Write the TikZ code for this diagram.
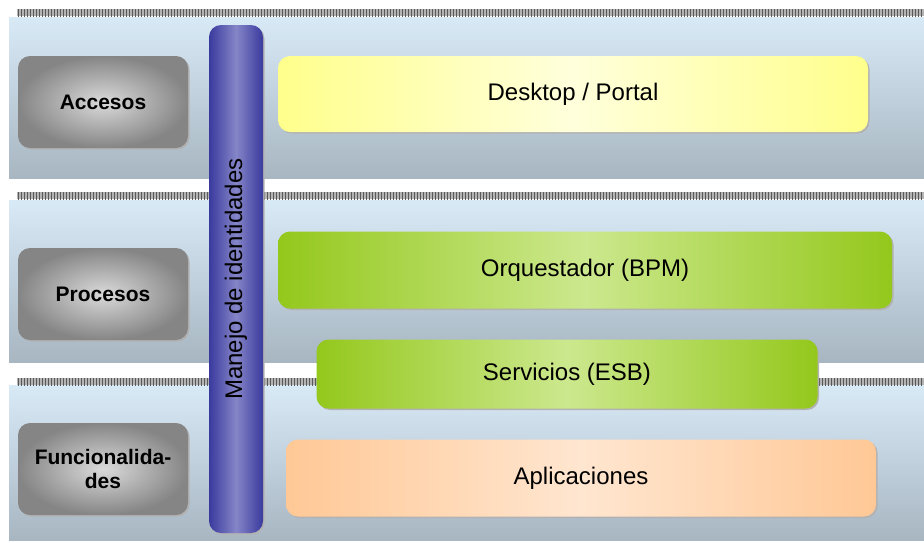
\documentclass[tikz,border=0pt]{standalone}
\usepackage{fontspec}
\setmainfont{Liberation Sans}
\usetikzlibrary{shadows, patterns}
\definecolor{bandtop}{HTML}{D9EAF7}
\definecolor{bandbot}{HTML}{A7B6C1}
\definecolor{stripegray}{HTML}{B4B4B4}
\definecolor{boxgray}{HTML}{858585}
\definecolor{boxlight}{HTML}{DADADA}
\definecolor{iddark}{HTML}{3A3A9E}
\definecolor{idlight}{HTML}{8585C8}
\definecolor{yelend}{HTML}{FFFF8C}
\definecolor{yelmid}{HTML}{FFFFDC}
\definecolor{greenend}{HTML}{94C81C}
\definecolor{greenmid}{HTML}{CCE88E}
\definecolor{peachend}{HTML}{FFC896}
\definecolor{peachmid}{HTML}{FFE6D0}
\tikzstyle{band} = [top color=bandtop, bottom color=bandbot]
\tikzstyle{stripe} = [fill=stripegray, postaction={pattern=vertical lines, pattern color=gray!70!black}]
\tikzstyle{layer} = [rectangle, rounded corners=12pt, minimum width=170pt, minimum height=92pt, align=center, shading=radial, inner color=boxlight, outer color=boxgray, drop shadow={shadow xshift=1.5pt, shadow yshift=-1.5pt, fill=gray!60, opacity=1}, font=\fontsize{21}{24}\selectfont\bfseries]
\tikzstyle{component} = [rectangle, rounded corners=12pt, text centered, drop shadow={shadow xshift=1.5pt, shadow yshift=-1.5pt, fill=gray!60, opacity=1}, font=\fontsize{24}{28}\selectfont]

\begin{document}
\begin{tikzpicture}[x=1pt, y=-1pt]
\useasboundingbox (0,0) rectangle (924,542);

% Bands
\fill[band] (9,17) rectangle (924,178);
\fill[band] (9,200) rectangle (924,362);
\fill[band] (9,385) rectangle (924,540);
\fill[stripe] (17,9) rectangle (924,16);
\fill[stripe] (17,192) rectangle (924,199);
\fill[stripe] (17,378) rectangle (924,385);

% Nodes
\node (accesos) [layer] at (103,102) {Accesos};
\node (procesos) [layer] at (103,294) {Procesos};
\node (funcionalidades) [layer] at (103,469) {Funcionalida-\\des};
\node (identidades) [component, rotate=90, minimum width=508pt, minimum height=54pt, left color=iddark, right color=iddark, middle color=idlight] at (236,279) {Manejo de identidades};
\node (portal) [component, minimum width=590pt, minimum height=76pt, left color=yelend, right color=yelend, middle color=yelmid] at (573,94) {Desktop / Portal};
\node (bpm) [component, minimum width=614pt, minimum height=77pt, left color=greenend, right color=greenend, middle color=greenmid] at (585,270) {Orquestador (BPM)};
\node (esb) [component, minimum width=501pt, minimum height=69pt, left color=greenend, right color=greenend, middle color=greenmid] at (567,374) {Servicios (ESB)};
\node (aplicaciones) [component, minimum width=590pt, minimum height=77pt, left color=peachend, right color=peachend, middle color=peachmid] at (581,478) {Aplicaciones};

\end{tikzpicture}
\end{document}
